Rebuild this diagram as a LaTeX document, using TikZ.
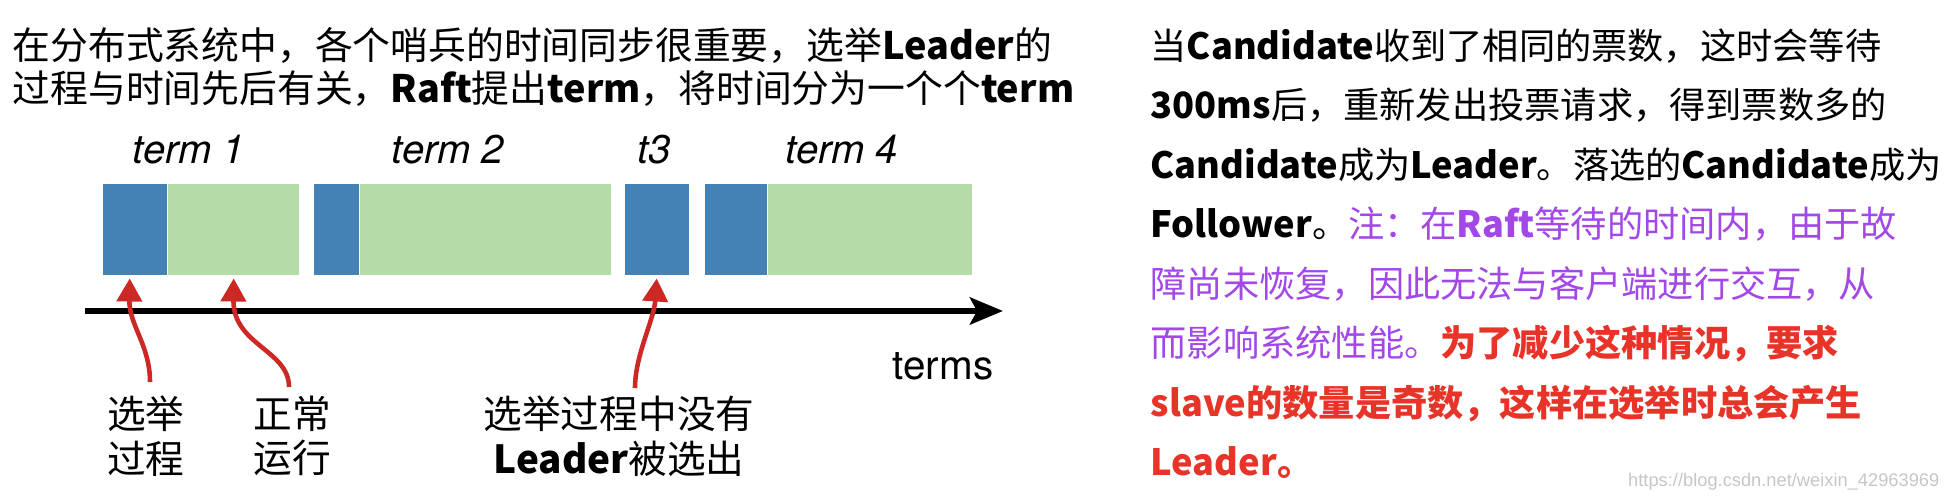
\documentclass[tikz,border=0pt]{standalone}
\usepackage{fontspec}
\setmainfont{Noto Sans CJK SC}
\newfontfamily\helv{TeX Gyre Heros}
\newfontfamily\wmfont{Liberation Sans}
\usepackage{xcolor}
\usetikzlibrary{arrows.meta,positioning}

\definecolor{termblue}{RGB}{68,129,180}
\definecolor{termgreen}{RGB}{181,219,169}
\definecolor{arrowred}{RGB}{204,40,38}
\definecolor{notepurple}{RGB}{163,72,232}
\definecolor{notered}{RGB}{232,52,40}
\newcommand{\ltn}[1]{\textbf{#1}}

\begin{document}
\begin{tikzpicture}[x=0.01cm, y=-0.01cm,
    headtxt/.style={anchor=base west, inner sep=0pt, font=\fontsize{10.75}{13}\selectfont},
    notetxt/.style={anchor=base west, inner sep=0pt, font=\fontsize{10.3}{12}\selectfont},
    elect/.style={fill=termblue, inner sep=0pt, anchor=north west, minimum height=0.91cm},
    normal/.style={fill=termgreen, inner sep=0pt, minimum height=0.91cm},
    termlbl/.style={anchor=base, inner sep=0pt, font=\helv\itshape\fontsize{11.4}{13}\selectfont},
    cause/.style={draw=arrowred, line width=1.3pt, -{Triangle[length=0.23cm, width=0.25cm]}},
    lbl/.style={anchor=north, inner sep=0pt, align=center, font=\fontsize{11}{12.7}\selectfont}]
  \useasboundingbox (0,0) rectangle (1944,500);

  % heading on the left
  \node[headtxt] (head1) at (12,60) {在分布式系统中，各个哨兵的时间同步很重要，选举\ltn{Leader}的};
  \node[headtxt] (head2) at (12,103) {过程与时间先后有关，\ltn{Raft}提出\ltn{term}，将时间分为一个个\ltn{term}};

  % the terms
  \node[elect, minimum width=0.64cm] (blue1) at (102,183) {};
  \node[normal, minimum width=1.31cm, right=0pt of blue1] (green1) {};
  \node[elect, minimum width=0.45cm] (blue2) at (313,183) {};
  \node[normal, minimum width=2.51cm, right=0pt of blue2] (green2) {};
  \node[elect, minimum width=0.64cm] (blue3) at (624,183) {};
  \node[elect, minimum width=0.62cm] (blue4) at (704,183) {};
  \node[normal, minimum width=2.04cm, right=0pt of blue4] (green4) {};

  \node[termlbl] (term1) at (189,163) {term 1};
  \node[termlbl] (term2) at (448,163) {term 2};
  \node[termlbl] (term3) at (654,163) {t3};
  \node[termlbl] (term4) at (842,163) {term 4};

  % time axis
  \coordinate (tstart) at (85,311);
  \coordinate (tend) at (1003,311);
  \draw[line width=1.7pt, -{Stealth[length=0.33cm, width=0.27cm, inset=0.07cm]}] (tstart) -- (tend);
  \node[anchor=base, inner sep=0pt, font=\helv\fontsize{11.5}{13}\selectfont] (terms) at (943,379) {terms};

  % labels below
  \node[lbl] (lbl1) at (146,395) {选举\\过程};
  \node[lbl] (lbl2) at (292,395) {正常\\运行};
  \node[lbl] (lbl3) at (619,395) {选举过程中没有\\\ltn{Leader}被选出};

  \coordinate (tail1) at (150,382);
  \coordinate (tail2) at (289,387);
  \coordinate (tail3) at (635,388);
  \draw[cause] (tail1) .. controls (150,345) and (129,325) .. ([xshift=-0.05cm, yshift=-0.03cm]blue1.south);
  \draw[cause] (tail2) .. controls (289,350) and (233,345) .. ([yshift=-0.03cm]green1.south);
  \draw[cause] (tail3) .. controls (635,355) and (654,320) .. ([yshift=-0.03cm]blue3.south);

  % note on the right
  \node[notetxt] (note1) at (1150,59) {当\ltn{Candidate}收到了相同的票数，这时会等待};
  \node[notetxt] (note2) at (1150,118.5) {\ltn{300ms}后，重新发出投票请求，得到票数多的};
  \node[notetxt] (note3) at (1150,178) {\ltn{Candidate}成为\ltn{Leader}。落选的\ltn{Candidate}成为};
  \node[notetxt] (note4) at (1150,237.5) {\ltn{Follower}。\textcolor{notepurple}{注：在\ltn{Raft}等待的时间内，由于故}};
  \node[notetxt, text=notepurple] (note5) at (1150,297) {障尚未恢复，因此无法与客户端进行交互，从};
  \node[notetxt, text=notepurple] (note6) at (1150,356.5) {而影响系统性能。\textcolor{notered}{\bfseries 为了减少这种情况，要求}};
  \node[notetxt, text=notered, font=\fontsize{10.3}{12}\selectfont\bfseries] (note7) at (1150,416) {slave的数量是奇数，这样在选举时总会产生};
  \node[notetxt, text=notered, font=\fontsize{10.3}{12}\selectfont\bfseries] (note8) at (1150,475.5) {Leader。};

  \node[anchor=base east, inner sep=0pt, text=gray!45, font=\wmfont\fontsize{5.2}{6}\selectfont] (mark) at (1940,486) {https://blog.csdn.net/weixin\_42963969};
\end{tikzpicture}
\end{document}
